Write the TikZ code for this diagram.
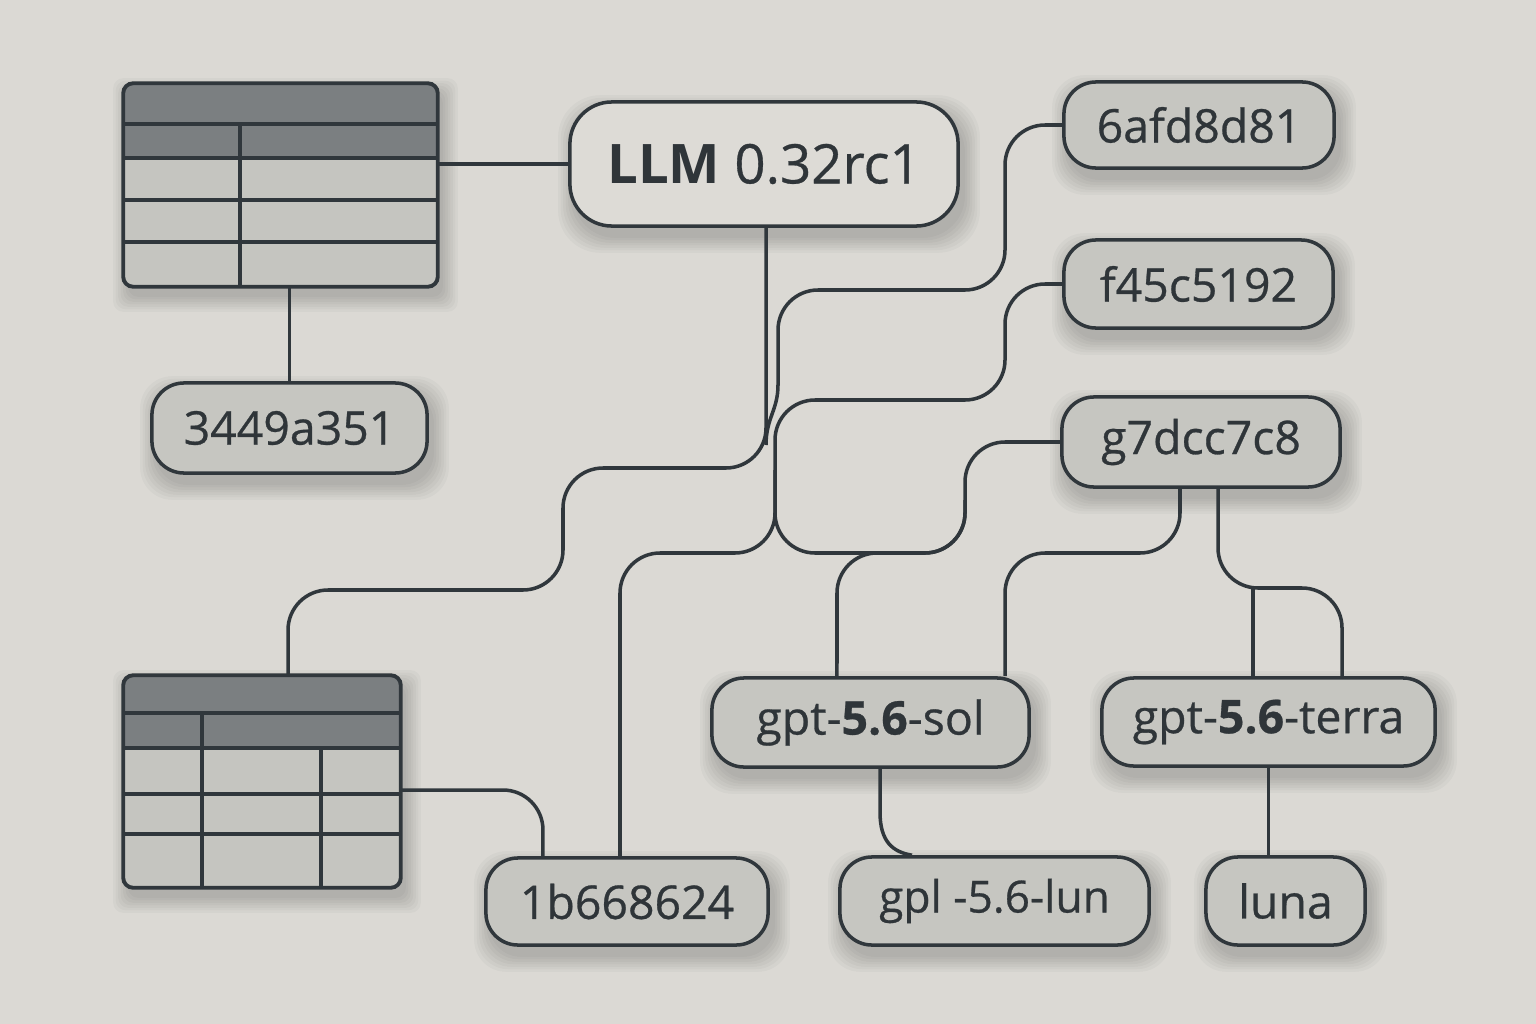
\documentclass[tikz,border=0pt]{standalone}
\usepackage{fontspec}
\setmainfont{Open Sans}
\newfontfamily\medfont{Open Sans}[FakeBold=0.6]
\usetikzlibrary{calc}
\definecolor{bgc}{HTML}{DBD9D4}
\definecolor{nodec}{HTML}{C6C6C1}
\definecolor{llmc}{HTML}{DDDBD6}
\definecolor{linec}{HTML}{30373C}
\definecolor{headc}{HTML}{7B7F81}
\definecolor{cellc}{HTML}{C5C5C0}
\definecolor{txtc}{HTML}{2F3539}
\pgfdeclarelayer{bg}\pgfdeclarelayer{shadow}\pgfdeclarelayer{edges}
\pgfsetlayers{bg,shadow,edges,main}
\begin{document}
\begin{tikzpicture}[x=0.01cm,y=-0.01cm,
  conn/.style={draw=linec, line width=1pt, rounded corners=0.4cm},
  pill/.style={draw=linec, line width=1pt, fill=nodec, rounded corners=0.32cm, text=txtc,
    font=\medfont\fontsize{13.2}{15}\selectfont, inner sep=0pt},
  tabbox/.style={fill=cellc, rounded corners=0.1cm, inner sep=0pt},
  grid/.style={draw=linec, line width=1pt},
  border/.style={draw=linec, line width=1.1pt, rounded corners=0.1cm}
]
\begin{pgfonlayer}{bg}
\fill[bgc] (0,0) rectangle (1536,1024);
\end{pgfonlayer}
\useasboundingbox (0,0) rectangle (1536,1024);

% ---------- table 1 ----------
\node[tabbox, minimum width=3.13cm, minimum height=2.02cm] (t1) at (280.5,185) {};
\begin{scope}
\clip[rounded corners=0.1cm] (t1.north west) rectangle (t1.south east);
\fill[headc] (124,84) rectangle (437,158);
\end{scope}
\draw[grid] (124,124) -- (437,124);
\draw[grid] (124,158) -- (437,158);
\draw[grid] (124,200) -- (437,200);
\draw[grid] (124,242) -- (437,242);
\draw[grid] (240,124) -- (240,286);
\draw[border] (t1.north west) rectangle (t1.south east);

% ---------- table 2 ----------
\node[tabbox, minimum width=2.76cm, minimum height=2.11cm] (t2) at (262,781.5) {};
\begin{scope}
\clip[rounded corners=0.1cm] (t2.north west) rectangle (t2.south east);
\fill[headc] (124,676) rectangle (400,748);
\end{scope}
\draw[grid] (124,713) -- (400,713);
\draw[grid] (124,748) -- (400,748);
\draw[grid] (124,794) -- (400,794);
\draw[grid] (124,834) -- (400,834);
\draw[grid] (202,713) -- (202,887);
\draw[grid] (321,748) -- (321,887);
\draw[border] (t2.north west) rectangle (t2.south east);

% ---------- nodes ----------
\node[pill, fill=llmc, rounded corners=0.42cm, minimum width=3.88cm, minimum height=1.24cm,
  font=\fontsize{15.5}{18}\selectfont] (llm) at (764,164) {\textbf{LLM} {\medfont 0.32rc1}};
\node[pill, minimum width=2.70cm, minimum height=0.86cm] (h6a) at (1199,125) {6afd8d81};
\node[pill, minimum width=2.69cm, minimum height=0.88cm] (hf4) at (1198.5,284) {f45c5192};
\node[pill, minimum width=2.78cm, minimum height=0.90cm] (hg7) at (1201,442) {g7dcc7c8};
\node[pill, minimum width=2.75cm, minimum height=0.90cm] (h34) at (289.5,428) {3449a351};
\node[pill, minimum width=2.82cm, minimum height=0.87cm] (h1b) at (627,901.5) {1b668624};
\node[pill, minimum width=3.17cm, minimum height=0.89cm] (sol) at (870.5,722.5) {gpt-\textbf{5.6}-sol};
\node[pill, minimum width=3.33cm, minimum height=0.88cm] (terra) at (1268.5,722) {gpt-\textbf{5.6}-terra};
\node[pill, minimum width=3.09cm, minimum height=0.88cm, font=\medfont\fontsize{12.6}{15}\selectfont] (lun) at (994.5,901) {gpl -5.6-lun};
\node[pill, minimum width=1.59cm, minimum height=0.88cm] (luna) at (1285.5,901) {luna};

% ---------- soft shadows ----------
\begin{pgfonlayer}{shadow}
\foreach \n/\r in {t1/0.1, t2/0.1, llm/0.42, h6a/0.32, hf4/0.32, hg7/0.32, h34/0.32, h1b/0.32, sol/0.32, terra/0.32, lun/0.32, luna/0.32}{
  \foreach \k in {0,...,6}{
    \fill[black, opacity=0.028, rounded corners=\r cm]
      ([shift={(5-2.5*\k,10-2.5*\k)}]\n.north west) rectangle ([shift={(5+2.5*\k,10+2.5*\k)}]\n.south east);
  }
}
\end{pgfonlayer}

% ---------- connectors ----------
\begin{pgfonlayer}{edges}
\draw[conn] (llm.west -| t1.east) -- (llm.west);
\draw[conn] (h34.north |- t1.south) -- (h34.north);
\draw[conn] ([xshift=0.02cm]llm.south) -- (766,468) -- (563,468) -- (563,590) -- (288,590) -- ([xshift=0.26cm]t2.north);
\draw[conn] (h6a.west) -- (1005,125) -- (1005,290) -- (778,290) -- (778,385);
\draw[draw=linec, line width=1pt] (778,385) .. controls (778,410) and (766,418) .. (766,445);
\draw[conn] (hf4.west) -- (1005,284) -- (1005,400) -- (775,400) -- (775,553) -- (620,553) -- ([xshift=-0.07cm]h1b.north);
\draw[conn] (hg7.west) -- (965,442) -- (965,553) -- (775,553) -- (775,470);
\draw[conn] ([xshift=-0.335cm]sol.north) -- (837,553) -- (965,553) -- (965,500);
\draw[conn] ([xshift=-0.21cm]hg7.south) -- (1180,553) -- (1005,553) -- ([xshift=1.345cm]sol.north);
\draw[conn] ([xshift=0.17cm]hg7.south) -- (1218,588) -- (1342,588) -- ([xshift=0.735cm]terra.north);
\coordinate (jt) at (1253,588);
\draw[conn] (jt) -- (jt |- terra.north);
\draw[draw=linec, line width=1pt] ([xshift=0.095cm]sol.south) -- (880,812) .. controls (880,842) and (893,852) .. ([xshift=-0.825cm]lun.north);
\draw[conn] (terra.south) -- (terra.south |- luna.north);
\draw[conn] ([yshift=-0.085cm]t2.east) -- (543,790) -- ([xshift=-0.84cm]h1b.north);
\end{pgfonlayer}
\end{tikzpicture}
\end{document}
